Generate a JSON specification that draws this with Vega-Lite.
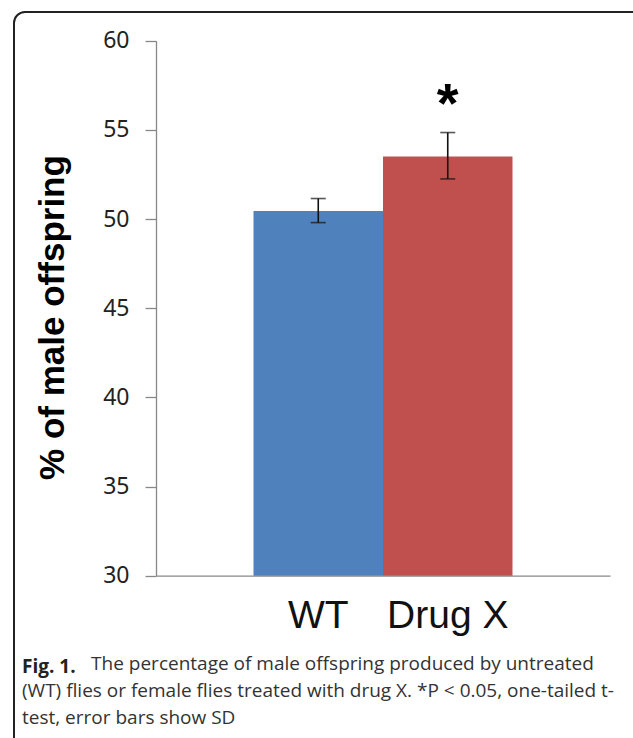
{
  "$schema": "https://vega.github.io/schema/vega-lite/v6.json",
  "width": 629,
  "height": 736,
  "autosize": {"type": "none"},
  "padding": {"left": 14, "top": 12, "right": -10, "bottom": -10},
  "background": "white",
  "config": {
    "view": {"stroke": "#222", "strokeWidth": 2, "cornerRadius": 11, "fill": "white"}
  },
  "title": {
    "text": "Fig. 1.",
    "subtitle": [
      "\u200b\u00a0\u00a0\u00a0\u00a0\u00a0\u00a0\u00a0\u00a0\u00a0\u00a0\u00a0\u00a0\u00a0 The percentage of male offspring produced by untreated",
      "(WT) flies or female flies treated with drug X. *P < 0.05, one-tailed t-",
      "test, error bars show SD"
    ],
    "orient": "bottom",
    "anchor": "start",
    "frame": "group",
    "offset": -90,
    "dx": 8,
    "font": "Open Sans",
    "fontSize": 19,
    "fontWeight": "bold",
    "color": "#222",
    "subtitleFont": "Open Sans",
    "subtitleFontSize": 19,
    "subtitleColor": "#333",
    "subtitlePadding": -22,
    "subtitleLineHeight": 27
  },
  "data": {
    "values": [
      {"group": "WT", "value": 50.45, "lo": 49.8, "hi": 51.15, "sig": ""},
      {"group": "Drug X", "value": 53.5, "lo": 52.25, "hi": 54.85, "sig": "*"}
    ]
  },
  "encoding": {
    "x": {
      "field": "group",
      "type": "nominal",
      "sort": ["WT", "Drug X"],
      "scale": {"range": [142, 596], "paddingInner": 0, "paddingOuter": 0.753},
      "axis": {
        "title": null,
        "labelAngle": 0,
        "ticks": false,
        "offset": -172.3,
        "domainColor": "#888",
        "domainWidth": 1.3,
        "labelFont": "Liberation Sans",
        "labelFontSize": 39,
        "labelColor": "#111",
        "labelPadding": 21
      }
    }
  },
  "layer": [
    {
      "mark": {"type": "bar"},
      "encoding": {
        "y": {
          "field": "value",
          "type": "quantitative",
          "title": "% of male offspring",
          "scale": {"domain": [30, 60], "range": [563.7, 28.7], "zero": false, "nice": false},
          "axis": {
            "values": [30, 35, 40, 45, 50, 55, 60],
            "grid": false,
            "offset": -142,
            "domainColor": "#888",
            "domainWidth": 1.3,
            "tickColor": "#888",
            "tickWidth": 1.3,
            "tickSize": 11,
            "labelFont": "Noto Sans",
            "labelFontSize": 23,
            "labelColor": "#222",
            "labelPadding": 16,
            "titleFont": "Liberation Sans",
            "titleFontSize": 35,
            "titleFontWeight": "bold",
            "titleColor": "#000",
            "titlePadding": 32,
            "titleY": 305
          }
        },
        "y2": {"datum": 30},
        "color": {
          "field": "group",
          "type": "nominal",
          "scale": {"domain": ["WT", "Drug X"], "range": ["#4F81BD", "#C0504D"]},
          "legend": null
        }
      }
    },
    {
      "mark": {"type": "errorbar", "color": "#111", "thickness": 1.6, "ticks": {"size": 15, "thickness": 1.6, "color": "#111"}},
      "encoding": {
        "y": {"field": "lo", "type": "quantitative", "title": "% of male offspring"},
        "y2": {"field": "hi"}
      }
    },
    {
      "mark": {"type": "text", "font": "Liberation Sans", "fontWeight": "bold", "fontSize": 56, "baseline": "middle", "color": "#000"},
      "encoding": {
        "y": {"datum": 56.4, "title": "% of male offspring"},
        "text": {"field": "sig"}
      }
    }
  ]
}
